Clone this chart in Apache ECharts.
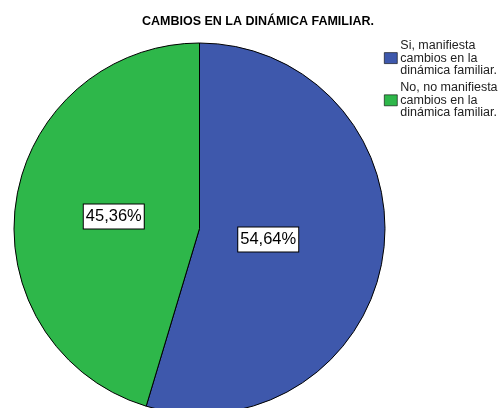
<!DOCTYPE html>
<html>
<head>
<meta charset="utf-8">
<script src="https://cdn.jsdelivr.net/npm/echarts@6/dist/echarts.min.js"></script>
<style>
  html, body { margin: 0; padding: 0; background: #fff; }
  #main { width: 498px; height: 408px; }
</style>
</head>
<body>
<div id="main"></div>
<script>
// datos del gráfico
var categorias = ['Si, manifiesta\ncambios en la\ndinámica familiar.', 'No, no manifiesta\ncambios en la\ndinámica familiar.'];
var porcentajes = [54.64, 45.36];
var colores = ['#3e58ac', '#2eb74a'];

var myChart = echarts.init(document.getElementById('main'));

var datos = categorias.map(function (c, i) {
  return { name: c, value: porcentajes[i], itemStyle: { color: colores[i] } };
});
// la etiqueta azul queda mas cerca del centro
datos[0].label = { offset: [-26, -3] };
datos[1].label = { offset: [9, 2] };

var option = {
  animation: false,
  backgroundColor: '#fff',
  title: {
    text: 'CAMBIOS EN LA DINÁMICA FAMILIAR.',
    left: 137,
    top: 10,
    textStyle: {
      fontFamily: 'Liberation Sans',
      fontSize: 12.5,
      fontWeight: 'bold',
      color: '#000'
    }
  },
  legend: {
    orient: 'vertical',
    left: 384,
    top: 39,
    itemWidth: 13,
    itemHeight: 11,
    itemGap: 4,
    icon: 'rect',
    selectedMode: false,
    padding: 0,
    itemStyle: { borderColor: '#000', borderWidth: 0.6 },
    textStyle: {
      fontFamily: 'Liberation Sans',
      fontSize: 12.5,
      lineHeight: 12.6,
      color: '#222',
      padding: [0, 0, 0, -2]
    },
    data: categorias
  },
  series: [
    {
      type: 'pie',
      center: [199.5, 228.5],
      radius: 185.5,
      startAngle: 90,
      clockwise: true,
      avoidLabelOverlap: false,
      itemStyle: { borderColor: '#000', borderWidth: 1 },
      label: {
        show: true,
        position: 'inside',
        formatter: function (p) {
          return p.value.toFixed(2).replace('.', ',') + '%';
        },
        fontFamily: 'Liberation Sans',
        fontSize: 16.5,
        color: '#000',
        backgroundColor: '#fff',
        borderColor: '#000',
        borderWidth: 1,
        padding: [4, 2, 3, 2]
      },
      labelLine: { show: false },
      emphasis: { disabled: true },
      data: datos
    }
  ]
};
myChart.setOption(option);
</script>
</body>
</html>
